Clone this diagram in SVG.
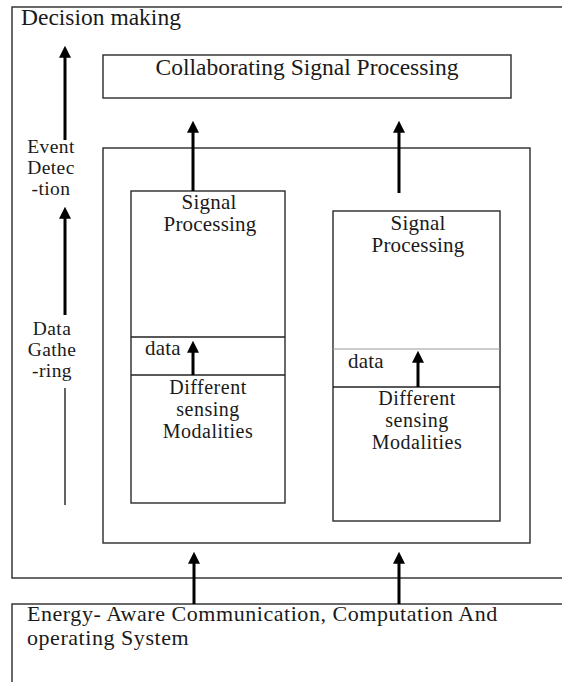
<svg xmlns="http://www.w3.org/2000/svg" width="562" height="682" viewBox="0 0 562 682">
<style>
.box{fill:none;stroke:#2a2a2a;stroke-width:1.4}
.lt{fill:none;stroke:#9a9a9a;stroke-width:1}
.t{font-family:"Liberation Serif","Times New Roman",serif;font-size:21px;letter-spacing:0.2px;fill:#1a1a1a}
.big{font-size:23.5px;letter-spacing:0}
.bt{font-size:22px;letter-spacing:0.55px}
.md{font-size:20px;letter-spacing:0.5px}
.sm{font-size:19.5px;letter-spacing:0.4px}
.c{text-anchor:middle}
.arr{stroke:#000;stroke-width:3;fill:none;marker-end:url(#ah)}
.ln{stroke:#222;stroke-width:1.4}
</style>
<defs>
<marker id="ah" markerWidth="4" markerHeight="4" refX="2.6" refY="2" orient="auto" markerUnits="strokeWidth">
<path d="M0,0 L4,2 L0,4 z" fill="#000"/>
</marker>
</defs>
<rect width="562" height="682" fill="#fff"/>
<g id="outer">
<rect class="box" x="12" y="7" width="560" height="571"/>
<text class="t big" x="21" y="25">Decision making</text>
</g>
<g id="collab">
<rect class="box" x="103" y="55" width="408" height="43"/>
<text class="t big c" x="307" y="75">Collaborating Signal Processing</text>
</g>
<g id="inner">
<rect class="box" x="103" y="148" width="427" height="395"/>
</g>
<g id="node1">
<rect class="box" x="131" y="191" width="154" height="312"/>
<line class="ln" x1="131" y1="337" x2="285" y2="337"/>
<line class="ln" x1="131" y1="375" x2="285" y2="375"/>
<text class="t c" x="209" y="209">Signal</text>
<text class="t c" x="210" y="231">Processing</text>
<text class="t" x="145" y="355">data</text>
<text class="t md c" x="208" y="394">Different</text>
<text class="t md c" x="208" y="416">sensing</text>
<text class="t md c" x="208" y="438">Modalities</text>
</g>
<g id="node2">
<rect class="box" x="333" y="211" width="167" height="310"/>
<line class="lt" x1="333" y1="349" x2="500" y2="349"/>
<line class="ln" x1="333" y1="387" x2="500" y2="387"/>
<text class="t c" x="418" y="230">Signal</text>
<text class="t c" x="418" y="252">Processing</text>
<text class="t" x="348" y="368">data</text>
<text class="t md c" x="417" y="405">Different</text>
<text class="t md c" x="417" y="427">sensing</text>
<text class="t md c" x="417" y="449">Modalities</text>
</g>
<g id="bottom">
<rect class="box" x="12" y="604" width="560" height="90"/>
<text class="t bt" x="27" y="621">Energy- Aware Communication, Computation And</text>
<text class="t bt" x="27" y="645">operating System</text>
</g>
<g id="side-labels">
<text class="t sm c" x="51" y="153">Event</text>
<text class="t sm c" x="51" y="174">Detec</text>
<text class="t sm c" x="51" y="195">-tion</text>
<text class="t sm c" x="52" y="335">Data</text>
<text class="t sm c" x="52" y="356">Gathe</text>
<text class="t sm c" x="52" y="377">-ring</text>
</g>
<g id="connectors">
<line class="arr" x1="65" y1="140" x2="65" y2="50"/>
<line class="arr" x1="65" y1="315" x2="65" y2="211"/>
<line class="ln" x1="65" y1="388" x2="65" y2="505"/>
<line class="arr" x1="193" y1="191" x2="193" y2="125"/>
<line class="arr" x1="399" y1="193" x2="399" y2="125"/>
<line class="arr" x1="193" y1="375" x2="193" y2="345"/>
<line class="arr" x1="418" y1="387" x2="418" y2="355"/>
<line class="arr" x1="194" y1="604" x2="194" y2="556"/>
<line class="arr" x1="399" y1="604" x2="399" y2="556"/>
</g>
</svg>
